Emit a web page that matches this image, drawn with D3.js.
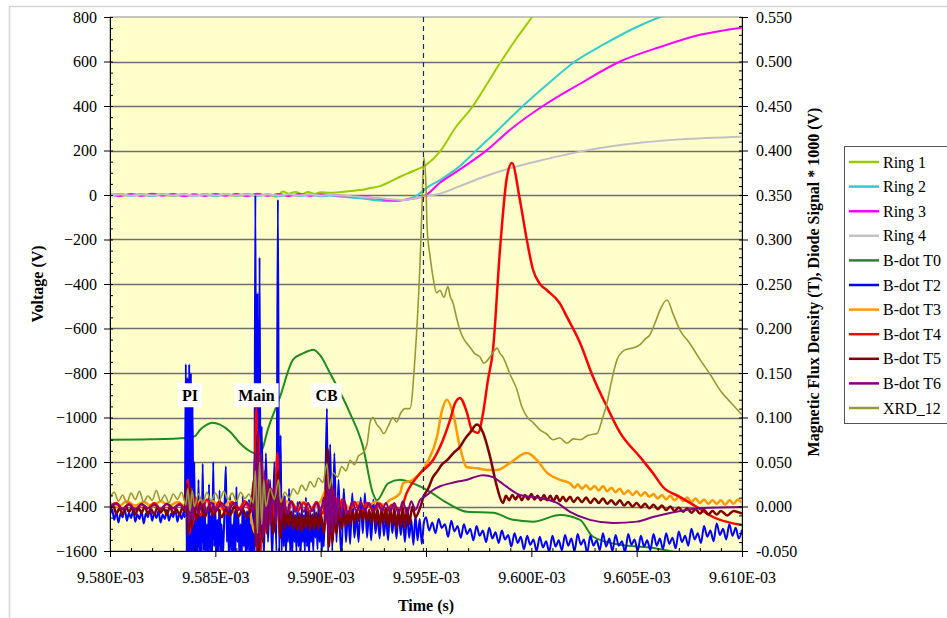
<!DOCTYPE html>
<html>
<head>
<meta charset="utf-8">
<script src="https://cdn.jsdelivr.net/npm/d3@7"></script>
<style>
  body { margin: 0; background: #fff; }
</style>
</head>
<body>
<svg id="chart" width="947" height="618"></svg>
<script>
// =======================
// Voltage / B-dot / XRD traces vs time
// time values are microseconds after 9.580E-03 s
// =======================

const T0 = 9.580e-3;
const FONT = "'Liberation Serif', 'Times New Roman', Tinos, 'DejaVu Serif', serif";

// x ticks (s), left ticks (V), right ticks (T)
const xTicks = [9.580e-3, 9.585e-3, 9.590e-3, 9.595e-3, 9.600e-3, 9.605e-3, 9.610e-3];
const leftTicks = [-1600, -1400, -1200, -1000, -800, -600, -400, -200, 0, 200, 400, 600, 800];
const rightTicks = [-0.05, 0, 0.05, 0.1, 0.15, 0.2, 0.25, 0.3, 0.35, 0.4, 0.45, 0.5, 0.55];

// Rings (Voltage, left axis)
const ring1 = [[0,0],[0.5,3],[1,-2],[1.5,4],[2,-3],[2.5,2],[3,-4],[3.5,3],[4,-2],[4.5,4],[5,-3],[5.5,2],[6,-4],[6.5,3],[7,-2],[7.5,2],[7.9,-8],[8.2,16],[8.5,6],[8.8,14],[9.1,4],[9.4,13],[9.7,5],[10,12],[10.44,10],[11.0,14],[11.4,18],[11.87,22],[12.3,30],[12.82,40],[13.3,60],[13.77,82],[14.4,108],[15.0,135],[15.66,195],[16.38,300],[17.23,400],[17.90,500],[18.56,600],[19.27,700],[20.03,800],[20.2,825]];
const ring2 = [[0,0],[0.5,5],[1,-4],[1.5,3],[2,-5],[2.5,4],[3,-3],[3.5,5],[4,-4],[4.5,3],[5,-5],[5.5,4],[6,-3],[6.5,5],[7,-4],[7.5,3],[8,-6],[8.5,2],[9,-5],[9.5,3],[10,-6],[10.44,-2],[11.0,-8],[11.87,-15],[12.5,-22],[13.29,-28],[13.8,-24],[14.24,-15],[14.6,0],[15.0,30],[15.66,67],[16.61,130],[17.33,195],[18.51,300],[19.60,400],[20.79,500],[22.07,600],[23.50,680],[24.78,745],[26.11,800],[26.4,810]];
const ring3 = [[0,3],[0.5,-4],[1,5],[1.5,-3],[2,6],[2.5,-2],[3,4],[3.5,-5],[4,3],[4.5,-4],[5,5],[5.5,-3],[6,4],[6.5,-5],[7,6],[7.5,-3],[8,4],[8.5,-4],[9,5],[9.5,-3],[10,3],[10.44,0],[11.2,-5],[12.34,-12],[13.0,-20],[13.53,-25],[14.0,-22],[14.48,-15],[15.0,0],[15.66,55],[16.61,115],[17.80,195],[19.08,300],[20.55,400],[22.31,500],[24.21,600],[26.11,665],[28.01,720],[30,752]];
const ring4 = [[0,-2],[0.5,2],[1,-3],[1.5,2],[2,-2],[2.5,3],[3,-2],[3.5,2],[4,-3],[4.5,2],[5,-2],[5.5,3],[6,-2],[6.5,2],[7,-3],[7.5,2],[8,-2],[8.5,3],[9,-2],[9.5,2],[10,-2],[10.44,0],[11.5,-6],[12.82,-15],[14.0,-22],[14.6,-12],[15.0,-5],[15.66,6],[16.61,40],[17.56,75],[18.99,120],[20.65,160],[22.31,195],[23.73,218],[25.16,235],[27.06,250],[30,262]];

// B-dot probes and diode (right axis)
const bdotT0 = [[0,0.075],[1.9,0.0755],[3.65,0.077],[4.03,0.079],[4.27,0.086],[4.6,0.092],[4.84,0.094],[5.22,0.092],[5.70,0.084],[6.17,0.071],[6.65,0.062],[7.03,0.059],[7.26,0.066],[7.45,0.083],[8.07,0.123],[8.69,0.165],[9.16,0.172],[9.45,0.175],[9.64,0.176],[9.97,0.170],[10.44,0.150],[11.39,0.105],[12.01,0.067],[12.48,0.015],[12.67,0.007],[13.20,0.026],[13.77,0.030],[14.38,0.026],[15.05,0.0185],[16.0,0.004],[16.95,-0.006],[18.18,-0.007],[19.13,-0.015],[20.08,-0.017],[21.36,-0.0096],[22.31,-0.015],[22.93,-0.034],[24.21,-0.043],[25.63,-0.046],[27.53,-0.054],[30,-0.06]];

const bdotT2 = [[0,-0.01],[0.1,-0.003],[0.2,-0.015],[0.3,-0.006],[0.4,-0.018],[0.5,-0.008],[0.6,-0.012],[0.7,-0.002],[0.8,-0.016],[0.9,-0.007],[1.0,-0.013],[1.1,-0.004],[1.2,-0.017],[1.3,-0.009],[1.4,-0.014],[1.5,-0.005],[1.6,-0.019],[1.7,-0.008],[1.8,-0.012],[1.9,-0.003],[2.0,-0.016],[2.1,-0.007],[2.2,-0.013],[2.3,-0.005],[2.4,-0.018],[2.5,-0.009],[2.6,-0.014],[2.7,-0.004],[2.8,-0.016],[2.9,-0.008],[3.0,-0.012],[3.1,-0.003],[3.2,-0.017],[3.3,-0.007],[3.4,-0.014],[3.5,-0.006],[3.55,-0.012],
  [3.6,0.16],[3.64,-0.06],[3.68,0.145],[3.72,-0.06],[3.76,0.16],[3.8,-0.06],[3.84,0.15],[3.88,-0.06],[3.92,0.12],[3.96,-0.06],[4.0,0.05],
  [4.05,-0.06],[4.1,0.0],[4.15,-0.06],[4.2,0.03],[4.25,-0.055],[4.3,-0.01],[4.35,-0.06],[4.4,0.048],[4.45,-0.05],[4.5,0.0],[4.55,-0.06],[4.6,-0.02],[4.65,-0.06],[4.7,0.025],[4.75,-0.058],[4.8,-0.01],[4.85,-0.06],[4.9,0.05],[4.95,-0.045],[5.0,0.0],[5.05,-0.06],[5.1,-0.015],[5.15,-0.06],[5.2,0.018],[5.25,-0.05],[5.3,-0.02],[5.35,-0.06],[5.45,0.01],[5.5,0.045],[5.55,-0.04],[5.6,-0.005],[5.65,-0.06],[5.7,0.012],[5.75,-0.05],[5.8,-0.02],[5.85,-0.06],[5.9,-0.005],[5.95,-0.055],[6.0,0.022],[6.05,-0.04],[6.1,-0.01],[6.15,-0.06],[6.2,-0.02],[6.25,-0.06],[6.3,0.012],[6.35,-0.045],[6.4,-0.01],[6.45,-0.058],[6.5,-0.005],[6.55,-0.05],[6.6,0.008],[6.65,-0.06],[6.7,-0.02],[6.75,-0.06],[6.8,0.02],
  [6.85,-0.06],[6.9,0.35],[6.95,-0.06],[7.0,0.24],[7.05,-0.06],[7.1,0.28],[7.15,-0.06],[7.2,0.09],[7.3,-0.06],[7.4,0.06],[7.5,-0.04],[7.6,0.03],[7.7,-0.06],[7.8,0.05],[7.9,-0.05],[7.97,0.345],[8.03,-0.06],
  [8.1,0.08],[8.15,-0.05],[8.2,0.0],[8.25,-0.045],[8.3,0.012],[8.35,-0.055],[8.4,-0.01],[8.45,-0.04],[8.5,0.02],[8.55,-0.05],[8.6,-0.015],[8.65,-0.055],[8.7,0.0],[8.75,-0.04],[8.8,-0.01],[8.85,-0.05],[8.9,0.005],[8.95,-0.045],[9.0,-0.012],[9.05,-0.055],[9.1,0.0],[9.15,-0.04],[9.2,-0.015],[9.25,-0.05],[9.3,0.01],[9.35,-0.045],[9.4,-0.01],[9.45,-0.055],[9.5,-0.005],[9.55,-0.04],[9.6,-0.018],[9.65,-0.05],[9.7,0.0],[9.75,-0.035],[9.8,-0.012],[9.85,-0.048],[9.9,0.004],[9.95,-0.04],[10.0,-0.01],[10.05,-0.052],[10.1,-0.02],[10.15,-0.045],[10.22,0.02],
  [10.3,0.11],[10.35,-0.055],[10.45,0.07],[10.55,-0.05],[10.65,0.06],[10.75,-0.04],[10.85,0.03],[10.95,-0.05],
  [11.0,-0.045],[11.1,0.02],[11.2,-0.04],[11.3,-0.005],[11.4,-0.042],[11.5,0.015],[11.6,-0.035],[11.7,-0.01],[11.8,-0.04],[11.9,0.01],[12.0,-0.03],[12.1,0.015],[12.2,-0.035],[12.3,-0.005],[12.4,-0.038],[12.5,0.008],[12.6,-0.03],[12.7,-0.01],[12.8,-0.036],[12.9,0.002],[13.0,-0.033],[13.1,-0.012],[13.2,-0.038],[13.3,0.0],[13.4,-0.03],[13.5,-0.01],[13.6,-0.036],[13.7,-0.005],[13.8,-0.032],[13.9,-0.012],[14.0,-0.04],[14.1,-0.008],[14.2,-0.035],[14.3,-0.015],[14.4,-0.043],[14.5,-0.01],[14.6,-0.038],[14.7,-0.014],[14.8,-0.042],[14.9,-0.018],
  [15.0,-0.012],[15.15,-0.027],[15.3,-0.018],[15.45,-0.03],[15.6,-0.014],[15.75,-0.024],[15.9,-0.02],[16.05,-0.034],[16.2,-0.016],[16.35,-0.028],[16.5,-0.022],[16.65,-0.035],[16.8,-0.02],[16.95,-0.031],[17.1,-0.025],[17.25,-0.038],[17.4,-0.022],[17.55,-0.033],[17.7,-0.027],[17.85,-0.04],[18.0,-0.024],[18.15,-0.036],[18.3,-0.029],[18.45,-0.041],[18.6,-0.027],[18.75,-0.037],[18.9,-0.032],[19.05,-0.045],[19.2,-0.03],[19.35,-0.041],[19.5,-0.034],[19.65,-0.048],[19.8,-0.033],[19.95,-0.043],[20.1,-0.037],[20.25,-0.05],[20.4,-0.034],[20.55,-0.046],[20.7,-0.039],[20.85,-0.051],[21.0,-0.033],[21.15,-0.045],[21.3,-0.038],[21.45,-0.049],[21.6,-0.032],[21.75,-0.044],[21.9,-0.036],[22.05,-0.05],[22.2,-0.031],[22.35,-0.043],[22.5,-0.037],[22.65,-0.052],[22.8,-0.033],[22.95,-0.044],[23.1,-0.038],[23.25,-0.049],[23.4,-0.03],[23.55,-0.045],[23.7,-0.036],[23.85,-0.05],[24.0,-0.032],[24.15,-0.044],[24.3,-0.039],[24.45,-0.051],[24.6,-0.031],[24.75,-0.043],[24.9,-0.037],[25.05,-0.05],[25.2,-0.033],[25.35,-0.045],[25.5,-0.038],[25.65,-0.049],[25.8,-0.031],[25.95,-0.044],[26.1,-0.036],[26.25,-0.048],[26.4,-0.03],[26.55,-0.042],[26.7,-0.035],[26.85,-0.047],[27.0,-0.028],[27.15,-0.04],[27.3,-0.033],[27.45,-0.044],[27.6,-0.025],[27.75,-0.037],[27.9,-0.03],[28.05,-0.041],[28.2,-0.022],[28.35,-0.034],[28.5,-0.027],[28.65,-0.039],[28.8,-0.019],[28.95,-0.032],[29.1,-0.025],[29.25,-0.037],[29.4,-0.02],[29.55,-0.033],[29.7,-0.024],[29.85,-0.036],[30,-0.026]];

const bdotT3 = [[0,0.004],[0.4,0.0],[0.8,0.006],[1.2,0.001],[1.6,0.005],[2.0,0.0],[2.4,0.006],[2.8,0.001],[3.2,0.005],[3.6,0.0],[3.7,0.02],[3.8,-0.015],[3.9,0.015],[4.0,-0.01],[4.3,0.008],[4.6,-0.004],[4.9,0.006],[5.3,-0.003],[5.7,0.006],[6.1,-0.002],[6.5,0.005],[6.9,-0.03],[7.0,0.05],[7.1,-0.04],[7.2,0.03],[7.35,-0.02],[7.5,0.015],[7.7,-0.01],[7.9,0.01],[8.0,0.03],[8.1,-0.01],[8.4,0.006],[8.8,-0.003],[9.2,0.005],[9.6,-0.002],[10.0,0.006],[10.3,0.02],[10.4,-0.02],[10.5,0.015],[10.7,-0.008],[11.0,0.005],[11.4,-0.002],[11.8,0.005],[12.2,0.0],[12.6,0.005],[13.0,0.002],[13.29,0.0073],[13.77,0.015],[13.91,0.026],[14.38,0.030],[15.05,0.049],[15.52,0.078],[15.76,0.108],[16.0,0.120],[16.28,0.105],[16.61,0.067],[16.95,0.044],[17.42,0.043],[17.90,0.041],[18.37,0.041],[18.99,0.049],[19.79,0.060],[20.27,0.052],[20.74,0.038],[21.36,0.030],[21.84,0.026],[22.05,0.021],[22.2,0.025],[22.4,0.02],[22.6,0.024],[22.8,0.019],[23.0,0.023],[23.2,0.018],[23.4,0.023],[23.6,0.017],[23.8,0.021],[24.0,0.016],[24.2,0.02],[24.4,0.014],[24.6,0.018],[24.8,0.013],[25.0,0.017],[25.2,0.012],[25.4,0.016],[25.6,0.011],[25.8,0.014],[26.0,0.009],[26.2,0.013],[26.4,0.008],[26.6,0.012],[26.8,0.007],[27.0,0.011],[27.2,0.006],[27.4,0.01],[27.6,0.005],[27.8,0.009],[28.0,0.004],[28.2,0.008],[28.4,0.003],[28.6,0.007],[28.8,0.003],[29.0,0.007],[29.2,0.002],[29.4,0.007],[29.6,0.003],[29.8,0.008],[30,0.004]];

const bdotT4 = [[0,0.0],[0.3,0.004],[0.6,-0.003],[0.9,0.003],[1.2,-0.004],[1.5,0.002],[1.8,-0.002],[2.1,0.004],[2.4,-0.003],[2.7,0.003],[3.0,-0.002],[3.3,0.003],[3.6,-0.004],[3.7,0.03],[3.78,-0.03],[3.86,0.02],[3.94,-0.02],[4.05,0.01],[4.3,-0.01],[4.6,0.008],[4.9,-0.006],[5.2,0.006],[5.5,-0.008],[5.8,0.005],[6.1,-0.004],[6.4,0.006],[6.7,-0.006],[6.85,0.02],[6.95,0.11],[7.0,-0.05],[7.05,0.08],[7.12,-0.06],[7.2,0.05],[7.3,-0.03],[7.4,0.03],[7.5,-0.02],[7.65,0.02],[7.8,-0.015],[7.95,0.06],[8.05,-0.03],[8.2,0.01],[8.4,-0.01],[8.6,0.006],[8.9,-0.005],[9.2,0.004],[9.5,-0.006],[9.8,0.005],[10.1,-0.008],[10.25,0.02],[10.33,0.045],[10.4,-0.04],[10.5,0.025],[10.6,-0.03],[10.7,0.01],[10.85,-0.015],[11.0,0.008],[11.3,-0.01],[11.6,0.005],[11.9,-0.006],[12.2,0.004],[12.5,-0.005],[12.8,0.003],[13.1,-0.006],[13.4,0.002],[13.77,-0.004],[14.08,0.015],[14.71,0.037],[15.33,0.052],[15.81,0.075],[16.14,0.097],[16.38,0.116],[16.61,0.122],[16.95,0.105],[17.18,0.086],[17.47,0.0826],[17.71,0.105],[17.94,0.142],[18.18,0.176],[18.51,0.288],[18.84,0.370],[19.08,0.386],[19.46,0.344],[19.79,0.299],[20.08,0.266],[20.41,0.250],[20.74,0.243],[21.36,0.228],[21.69,0.213],[22.31,0.184],[22.93,0.1455],[23.59,0.112],[24.21,0.083],[25.16,0.0556],[25.77,0.0376],[26.25,0.0219],[27.06,0.0107],[27.86,-0.0006],[28.62,-0.0118],[30,-0.0208]];

const bdotT5 = [[0,-0.004],[0.15,0.001],[0.3,-0.008],[0.45,-0.002],[0.6,-0.009],[0.75,0.0],[0.9,-0.006],[1.05,-0.001],[1.2,-0.009],[1.35,-0.002],[1.5,-0.007],[1.65,0.0],[1.8,-0.008],[1.95,-0.003],[2.1,-0.009],[2.25,-0.001],[2.4,-0.007],[2.55,-0.002],[2.7,-0.009],[2.85,0.0],[3.0,-0.008],[3.15,-0.003],[3.3,-0.009],[3.45,-0.001],[3.55,-0.006],[3.65,0.025],[3.72,-0.03],[3.8,0.02],[3.88,-0.025],[3.96,0.01],[4.1,-0.015],[4.3,0.005],[4.5,-0.012],[4.7,0.0],[4.9,-0.01],[5.1,-0.002],[5.3,-0.012],[5.5,-0.003],[5.7,-0.01],[5.9,0.0],[6.1,-0.011],[6.3,-0.003],[6.5,-0.012],[6.7,0.0],[6.85,0.03],[6.93,-0.045],[7.0,0.08],[7.07,-0.05],[7.15,0.05],[7.25,-0.04],[7.35,0.03],[7.45,-0.03],[7.6,0.02],[7.75,-0.03],[7.9,0.01],[8.0,0.04],[8.08,-0.035],[8.2,0.005],[8.3,-0.025],[8.4,-0.005],[8.5,-0.022],[8.6,-0.006],[8.7,-0.025],[8.8,-0.01],[8.9,-0.026],[9.0,-0.008],[9.1,-0.028],[9.2,-0.01],[9.3,-0.024],[9.4,-0.006],[9.5,-0.027],[9.6,-0.009],[9.7,-0.025],[9.8,-0.007],[9.9,-0.026],[10.0,-0.008],[10.15,-0.03],[10.25,0.01],[10.33,0.065],[10.4,-0.045],[10.48,0.03],[10.56,-0.04],[10.65,0.01],[10.75,-0.03],[10.9,0.0],[11.0,-0.025],[11.1,-0.008],[11.2,-0.022],[11.3,-0.006],[11.4,-0.02],[11.5,-0.005],[11.6,-0.018],[11.7,-0.004],[11.8,-0.016],[11.9,-0.004],[12.0,-0.015],[12.1,-0.003],[12.2,-0.016],[12.3,-0.004],[12.4,-0.018],[12.5,-0.002],[12.6,-0.02],[12.7,-0.003],[12.8,-0.022],[12.9,-0.004],[13.0,-0.018],[13.1,-0.002],[13.2,-0.022],[13.3,-0.004],[13.4,-0.02],[13.5,-0.002],[13.6,-0.025],[13.7,-0.004],[13.8,-0.022],[13.9,-0.001],[14.0,-0.024],[14.1,-0.002],[14.2,-0.02],[14.35,0.0],[14.5,-0.012],[14.71,-0.002],[14.9,0.012],[15.1,0.02],[15.33,0.033],[15.55,0.04],[15.75,0.047],[16.0,0.052],[16.3,0.06],[16.61,0.067],[16.85,0.076],[17.09,0.083],[17.42,0.092],[17.71,0.083],[18.04,0.056],[18.37,0.022],[18.65,0.004],[18.8,0.012],[18.95,0.007],[19.1,0.013],[19.25,0.008],[19.4,0.013],[19.55,0.007],[19.7,0.013],[19.85,0.008],[20.0,0.014],[20.15,0.008],[20.3,0.012],[20.45,0.007],[20.6,0.013],[20.75,0.007],[20.9,0.012],[21.05,0.006],[21.2,0.012],[21.35,0.006],[21.5,0.011],[21.65,0.006],[21.84,0.011],[22.0,0.005],[22.2,0.01],[22.4,0.005],[22.6,0.01],[22.8,0.004],[23.0,0.009],[23.2,0.004],[23.4,0.009],[23.6,0.003],[23.8,0.007],[24.0,0.002],[24.2,0.007],[24.4,0.001],[24.6,0.005],[24.8,0.0],[25.0,0.004],[25.2,-0.001],[25.4,0.003],[25.6,-0.002],[25.8,0.002],[26.0,-0.003],[26.2,0.001],[26.4,-0.004],[26.6,0.0],[26.8,-0.005],[27.0,-0.001],[27.2,-0.006],[27.4,-0.002],[27.6,-0.007],[27.8,-0.003],[28.0,-0.008],[28.2,-0.004],[28.4,-0.009],[28.6,-0.005],[28.8,-0.009],[29.0,-0.005],[29.3,-0.01],[29.6,-0.005],[30,-0.008]];

const bdotT6 = [[0,0.0],[0.3,0.003],[0.6,-0.003],[0.9,0.002],[1.2,-0.003],[1.5,0.003],[1.8,-0.002],[2.1,0.002],[2.4,-0.003],[2.7,0.003],[3.0,-0.002],[3.3,0.002],[3.6,-0.003],[3.68,0.02],[3.76,-0.02],[3.84,0.015],[3.92,-0.015],[4.0,0.008],[4.2,-0.008],[4.4,0.006],[4.6,-0.006],[4.8,0.005],[5.0,-0.005],[5.3,0.004],[5.6,-0.004],[5.9,0.004],[6.2,-0.004],[6.5,0.004],[6.8,-0.005],[6.88,0.06],[6.95,-0.045],[7.02,0.085],[7.1,-0.04],[7.18,0.06],[7.26,-0.035],[7.34,0.04],[7.42,-0.03],[7.52,0.03],[7.62,-0.02],[7.75,0.02],[7.88,-0.02],[8.0,0.03],[8.1,-0.015],[8.25,0.01],[8.4,-0.008],[8.6,0.006],[8.8,-0.006],[9.0,0.005],[9.2,-0.006],[9.4,0.004],[9.6,-0.005],[9.8,0.004],[10.0,-0.006],[10.15,0.01],[10.25,-0.02],[10.33,0.035],[10.4,-0.035],[10.47,0.03],[10.55,-0.03],[10.63,0.02],[10.72,-0.02],[10.82,0.012],[10.95,-0.012],[11.1,0.008],[11.3,-0.008],[11.5,0.006],[11.7,-0.006],[11.9,0.005],[12.1,-0.005],[12.3,0.004],[12.5,-0.005],[12.7,0.004],[12.9,-0.005],[13.1,0.004],[13.3,-0.006],[13.5,0.004],[13.7,-0.008],[13.9,0.006],[14.1,-0.008],[14.3,0.006],[14.5,-0.004],[14.71,0.0073],[15.0,0.012],[15.33,0.0185],[15.7,0.023],[16.14,0.026],[16.5,0.028],[16.95,0.030],[17.3,0.033],[17.71,0.035],[18.18,0.033],[18.5,0.028],[18.84,0.022],[19.46,0.013],[20.41,0.0096],[21.22,0.004],[21.84,-0.006],[22.78,-0.015],[23.88,-0.0185],[25.02,-0.017],[25.77,-0.0118],[26.58,-0.0073],[28.15,-0.0017],[30,-0.0006]];

const xrd12 = [[0,0.010],[0.2,0.016],[0.4,0.006],[0.6,0.013],[0.8,0.004],[1.0,0.015],[1.2,0.008],[1.4,0.017],[1.6,0.005],[1.8,0.012],[2.0,0.007],[2.2,0.018],[2.4,0.006],[2.6,0.013],[2.8,0.004],[3.0,0.014],[3.2,0.008],[3.4,0.016],[3.6,0.002],[3.7,0.02],[3.8,-0.005],[3.9,0.018],[4.0,0.0],[4.2,0.014],[4.4,0.004],[4.6,0.016],[4.8,0.006],[5.0,0.015],[5.2,0.007],[5.4,0.017],[5.6,0.008],[5.8,0.015],[6.0,0.006],[6.2,0.016],[6.4,0.009],[6.6,0.014],[6.8,0.004],[6.9,0.04],[7.0,-0.03],[7.1,0.05],[7.2,-0.02],[7.3,0.03],[7.4,0.0],[7.6,0.02],[7.8,0.008],[8.0,0.03],[8.1,0.005],[8.3,0.016],[8.5,0.01],[8.7,0.02],[8.9,0.014],[9.1,0.024],[9.3,0.018],[9.5,0.028],[9.7,0.022],[9.9,0.032],[10.1,0.027],[10.3,0.048],[10.4,0.02],[10.6,0.038],[10.8,0.033],[11.0,0.045],[11.2,0.04],[11.4,0.052],[11.6,0.047],[11.8,0.057],[12.0,0.06],[12.2,0.07],[12.35,0.095],[12.48,0.1],[12.67,0.092],[12.82,0.088],[13.0,0.082],[13.2,0.09],[13.43,0.1],[13.6,0.095],[13.8,0.105],[14.0,0.11],[14.24,0.11],[14.48,0.168],[14.71,0.27],[14.8,0.33],[14.9,0.392],[15.0,0.36],[15.05,0.314],[15.2,0.28],[15.33,0.258],[15.5,0.24],[15.66,0.243],[15.85,0.235],[16.04,0.247],[16.15,0.236],[16.28,0.229],[16.45,0.212],[16.61,0.198],[16.85,0.186],[17.09,0.179],[17.3,0.172],[17.56,0.168],[17.75,0.161],[17.94,0.165],[18.15,0.172],[18.37,0.178],[18.51,0.172],[18.65,0.168],[19.0,0.148],[19.32,0.131],[19.55,0.112],[19.79,0.101],[20.1,0.094],[20.41,0.086],[20.7,0.082],[21.03,0.075],[21.35,0.077],[21.69,0.071],[22.0,0.076],[22.31,0.075],[22.7,0.08],[23.12,0.082],[23.35,0.097],[23.59,0.116],[23.8,0.14],[24.07,0.165],[24.45,0.176],[24.8,0.178],[25.16,0.182],[25.4,0.188],[25.63,0.193],[25.9,0.208],[26.11,0.221],[26.44,0.232],[26.75,0.215],[27.06,0.198],[27.5,0.184],[28.01,0.165],[28.5,0.148],[28.95,0.131],[29.5,0.116],[30,0.103]];

// marker time of the dashed line (us)
const markerTime = 14.88;

// annotation labels: [name, time (us), right-axis value]
const notes = [["PI", 3.80, 0.125], ["Main", 6.95, 0.125], ["CB", 10.28, 0.125]];

const seriesNames = ["Ring 1", "Ring 2", "Ring 3", "Ring 4", "B-dot T0", "B-dot T2", "B-dot T3", "B-dot T4", "B-dot T5", "B-dot T6", "XRD_12"];
const seriesColors = ["#99cc00", "#33cccc", "#ff00ff", "#c0c0c8", "#1f8a1f", "#0000ff", "#ff9900", "#ff0000", "#800000", "#800080", "#999933"];
const seriesData = [ring1, ring2, ring3, ring4, bdotT0, bdotT2, bdotT3, bdotT4, bdotT5, bdotT6, xrd12];
const seriesAxis = ["L", "L", "L", "L", "R", "R", "R", "R", "R", "R", "R"];
const seriesWidth = [2, 2, 2, 2, 2, 2, 2.5, 2.5, 2.5, 2, 1.6];

const plot = { left: 110, right: 742, top: 17, bottom: 551 };

const svg = d3.select("#chart").style("font-family", FONT);

// chart area frame (only left/top visible in the picture)
svg.append("path")
  .attr("d", "M9.5,700 L9.5,6.5 L960,6.5")
  .attr("fill", "none")
  .attr("stroke", "#d4d4d4")
  .attr("stroke-width", 1.5);

const x = d3.scaleLinear().domain([9.580e-3, 9.610e-3]).range([plot.left, plot.right]);
const yL = d3.scaleLinear().domain([-1600, 800]).range([plot.bottom, plot.top]);
const yR = d3.scaleLinear().domain([-0.05, 0.55]).range([plot.bottom, plot.top]);
const tx = us => x(T0 + us * 1e-6);

// plot background
svg.append("rect")
  .attr("x", plot.left).attr("y", plot.top)
  .attr("width", plot.right - plot.left).attr("height", plot.bottom - plot.top)
  .attr("fill", "#ffffcc")
  .attr("stroke", "#8c8c8c");

// gridlines
svg.append("g")
  .selectAll("line")
  .data(leftTicks.filter(d => d > -1600 && d < 800))
  .enter().append("line")
    .attr("x1", plot.left).attr("x2", plot.right)
    .attr("y1", d => Math.round(yL(d)) + 0.5).attr("y2", d => Math.round(yL(d)) + 0.5)
    .attr("stroke", "#6e6e6e")
    .attr("stroke-width", 1.3);

svg.append("defs").append("clipPath").attr("id", "clip")
  .append("rect")
    .attr("x", plot.left).attr("y", plot.top)
    .attr("width", plot.right - plot.left).attr("height", plot.bottom - plot.top);

const lines = svg.append("g").attr("clip-path", "url(#clip)");

seriesData.forEach((data, i) => {
  const yScale = seriesAxis[i] === "L" ? yL : yR;
  const line = d3.line()
    .curve(d3.curveMonotoneX)
    .x(d => tx(d[0]))
    .y(d => yScale(d[1]));
  lines.append("path")
    .datum(data)
    .attr("fill", "none")
    .attr("stroke", seriesColors[i])
    .attr("stroke-width", seriesWidth[i])
    .attr("stroke-linejoin", "round")
    .attr("d", line);
});

// dashed marker line
lines.append("line")
  .attr("x1", tx(markerTime)).attr("x2", tx(markerTime))
  .attr("y1", plot.top).attr("y2", plot.bottom)
  .attr("stroke", "#1a237e")
  .attr("stroke-width", 1.2)
  .attr("stroke-dasharray", "5,4");

// annotation boxes
notes.forEach(n => {
  const g = svg.append("g").attr("transform", `translate(${tx(n[1])},${yR(n[2])})`);
  const t = g.append("text")
    .attr("text-anchor", "middle")
    .attr("dy", "0.35em")
    .style("font-family", FONT)
    .style("font-size", "16px")
    .style("font-weight", "bold")
    .text(n[0]);
  const w = t.node().getComputedTextLength() + 8;
  g.insert("rect", "text")
    .attr("x", -w / 2).attr("y", -12)
    .attr("width", w).attr("height", 24)
    .attr("fill", "#fff");
});

// axes
const styleAxis = g => {
  g.attr("font-family", null);
  g.select(".domain").attr("stroke", "#000");
  g.selectAll(".tick line").attr("stroke", "#000");
  g.selectAll(".tick text")
    .style("font-family", FONT)
    .style("font-size", "16px")
    .attr("fill", "#000");
};

const minorL = d3.range(-1600, 801, 50);
const minorR = d3.range(-50, 551, 10).map(d => d / 1000);
const minorX = d3.range(0, 31).map(d => T0 + d * 1e-6);

// left
svg.append("g").attr("transform", `translate(${plot.left},0)`)
  .call(d3.axisLeft(yL).tickValues(minorL).tickSize(-3).tickFormat(""))
  .call(g => g.select(".domain").remove())
  .call(g => g.selectAll(".tick line").attr("stroke", "#000"));
svg.append("g").attr("transform", `translate(${plot.left},0)`)
  .call(d3.axisLeft(yL).tickValues(leftTicks).tickSizeInner(6).tickSizeOuter(0).tickPadding(7).tickFormat(d3.format("d")))
  .call(styleAxis);

// right
svg.append("g").attr("transform", `translate(${plot.right},0)`)
  .call(d3.axisRight(yR).tickValues(minorR).tickSize(-3).tickFormat(""))
  .call(g => g.select(".domain").remove())
  .call(g => g.selectAll(".tick line").attr("stroke", "#000"));
svg.append("g").attr("transform", `translate(${plot.right},0)`)
  .call(d3.axisRight(yR).tickValues(rightTicks).tickSizeInner(6).tickSizeOuter(0).tickPadding(8).tickFormat(d => d.toFixed(3)))
  .call(styleAxis);

// bottom
svg.append("g").attr("transform", `translate(0,${plot.bottom})`)
  .call(d3.axisBottom(x).tickValues(minorX).tickSize(-3).tickFormat(""))
  .call(g => g.select(".domain").remove())
  .call(g => g.selectAll(".tick line").attr("stroke", "#000"));
svg.append("g").attr("transform", `translate(0,${plot.bottom})`)
  .call(d3.axisBottom(x).tickValues(xTicks).tickSizeInner(6).tickSizeOuter(0).tickPadding(15)
    .tickFormat(d => (d * 1000).toFixed(3) + "E-03"))
  .call(styleAxis);

// axis titles
const title = (sel) => sel
  .attr("text-anchor", "middle")
  .style("font-family", FONT)
  .style("font-size", "16px")
  .style("font-weight", "bold");

svg.append("text")
  .attr("x", (plot.left + plot.right) / 2)
  .attr("y", 611)
  .call(title)
  .text("Time (s)");

svg.append("text")
  .attr("transform", `translate(43,${(plot.top + plot.bottom) / 2}) rotate(-90)`)
  .call(title)
  .text("Voltage (V)");

svg.append("text")
  .attr("transform", `translate(819,282) rotate(-90)`)
  .call(title)
  .text("Magnetic Flux Density (T), Diode Signal * 1000 (V)");

// legend
const legend = svg.append("g").attr("transform", "translate(844,146)");
legend.append("rect")
  .attr("x", 0.5).attr("y", 0.5)
  .attr("width", 120).attr("height", 277)
  .attr("fill", "#fff")
  .attr("stroke", "#555");

seriesNames.forEach((name, i) => {
  const yy = 16 + i * 24.6;
  legend.append("line")
    .attr("x1", 5).attr("x2", 35)
    .attr("y1", yy).attr("y2", yy)
    .attr("stroke", seriesColors[i])
    .attr("stroke-width", 2.5);
  legend.append("text")
    .attr("x", 39).attr("y", yy + 5.5)
    .style("font-family", FONT)
    .style("font-size", "16px")
    .text(name);
});
</script>
</body>
</html>
